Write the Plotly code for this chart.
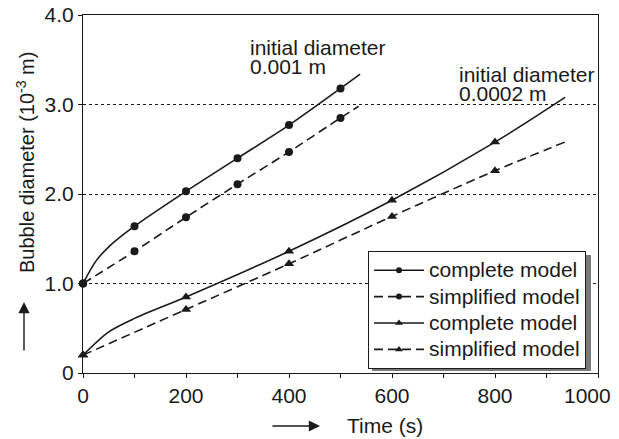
import plotly.graph_objects as go

# ---- data ----
# initial diameter 0.001 m, complete model
t_c1_line = [0, 25, 50, 100, 200, 300, 400, 500, 538]
d_c1_line = [1.0, 1.25, 1.41, 1.64, 2.03, 2.40, 2.77, 3.18, 3.34]
t_c1_mark = [0, 100, 200, 300, 400, 500]
d_c1_mark = [1.0, 1.64, 2.03, 2.40, 2.77, 3.18]

# initial diameter 0.001 m, simplified model
t_s1_line = [0, 100, 200, 300, 400, 500, 535]
d_s1_line = [1.0, 1.36, 1.74, 2.11, 2.47, 2.85, 2.98]
t_s1_mark = [0, 100, 200, 300, 400, 500]
d_s1_mark = [1.0, 1.36, 1.74, 2.11, 2.47, 2.85]

# initial diameter 0.0002 m, complete model
t_c2_line = [0, 50, 100, 200, 400, 600, 800, 936]
d_c2_line = [0.2, 0.46, 0.61, 0.85, 1.36, 1.93, 2.58, 3.08]
t_c2_mark = [0, 200, 400, 600, 800]
d_c2_mark = [0.2, 0.85, 1.36, 1.93, 2.58]

# initial diameter 0.0002 m, simplified model
t_s2_line = [0, 200, 400, 600, 800, 940]
d_s2_line = [0.2, 0.71, 1.22, 1.75, 2.26, 2.59]
t_s2_mark = [0, 200, 400, 600, 800]
d_s2_mark = [0.2, 0.71, 1.22, 1.75, 2.26]

legend_names = ["complete model", "simplified model", "complete model", "simplified model"]

x_tickvals = [0, 100, 200, 300, 400, 500, 600, 700, 800, 900, 1000]
x_ticktext = ["0", "", "200", "", "400", "", "600", "", "800", "", ""]
x_last_label = "1000"
y_tickvals = [0, 1, 2, 3, 4]
y_ticktext = ["0", "1.0", "2.0", "3.0", "4.0"]

INK = "#1a1a1a"
FONT = "Arial, Liberation Sans, sans-serif"
DASH = "9px,5px"
FS = 21

fig = go.Figure()

series = [
    (t_c1_line, d_c1_line, t_c1_mark, d_c1_mark, "solid", "circle", 8, legend_names[0]),
    (t_s1_line, d_s1_line, t_s1_mark, d_s1_mark, DASH, "circle", 8, legend_names[1]),
    (t_c2_line, d_c2_line, t_c2_mark, d_c2_mark, "solid", "triangle-up", 9, legend_names[2]),
    (t_s2_line, d_s2_line, t_s2_mark, d_s2_mark, DASH, "triangle-up", 9, legend_names[3]),
]

for i, (tl, dl, tm, dm, dash, sym, ms, name) in enumerate(series):
    fig.add_trace(go.Scatter(
        x=tl, y=dl, mode="lines", line=dict(color=INK, width=1.6, dash=dash, shape="spline", smoothing=0.8),
        showlegend=False, hoverinfo="skip"))
    fig.add_trace(go.Scatter(
        x=tm, y=dm, mode="markers", marker=dict(symbol=sym, size=ms, color=INK),
        showlegend=False, cliponaxis=False))
    fig.add_trace(go.Scatter(
        x=[None], y=[None], mode="lines+markers",
        name=f'<span style="font-size:{FS}px">{name}</span>',
        line=dict(color=INK, width=1.6, dash=dash),
        marker=dict(symbol=sym, size=ms - 2, color=INK)))

# legend shadow (drawn beneath the legend box)
fig.add_shape(type="rect", xref="paper", yref="paper",
              x0=(372 - 83) / 515, x1=(591 - 83) / 515,
              y0=(373 - 371) / 358, y1=(373 - 255) / 358,
              fillcolor="#7a7a7a", line=dict(width=0), layer="above")

annotations = [
    dict(x=320, y=3.64, text="initial diameter", xanchor="left", yanchor="middle"),
    dict(x=320, y=3.43, text="0.001 m", xanchor="left", yanchor="middle"),
    dict(x=726, y=3.33, text="initial diameter", xanchor="left", yanchor="middle"),
    dict(x=726, y=3.12, text="0.0002 m", xanchor="left", yanchor="middle"),
]
for a in annotations:
    fig.add_annotation(xref="x", yref="y", showarrow=False, font=dict(size=FS, color=INK, family=FONT), **a)

# last x tick label, nudged left as in the reference
fig.add_annotation(xref="paper", yref="paper", x=(587 - 83) / 515, y=(373 - 396) / 358,
                   text=x_last_label, showarrow=False, xanchor="center", yanchor="middle",
                   font=dict(size=FS, color=INK, family=FONT))

# axis titles and arrows
fig.add_annotation(xref="paper", yref="paper", x=(25 - 83) / 515, y=(373 - 163) / 358,
                   text="Bubble diameter (10<sup>-3</sup> m)", textangle=-90, showarrow=False,
                   xanchor="center", yanchor="middle", font=dict(size=20, color=INK, family=FONT))
fig.add_annotation(xref="paper", yref="paper", x=(24 - 83) / 515, y=(373 - 302) / 358,
                   text="", showarrow=True, ax=0, ay=50, arrowhead=2, arrowsize=1.6,
                   arrowwidth=1.4, arrowcolor=INK)
fig.add_annotation(xref="paper", yref="paper", x=(385 - 83) / 515, y=(373 - 425) / 358,
                   text="Time (s)", showarrow=False, xanchor="center", yanchor="middle",
                   font=dict(size=FS, color=INK, family=FONT))
fig.add_annotation(xref="paper", yref="paper", x=(320 - 83) / 515, y=(373 - 426) / 358,
                   text="", showarrow=True, ax=-49, ay=0, arrowhead=2, arrowsize=1.6,
                   arrowwidth=1.4, arrowcolor=INK)

fig.update_layout(
    width=619, height=439,
    margin=dict(l=83, r=21, t=15, b=66, autoexpand=False),
    paper_bgcolor="white", plot_bgcolor="white",
    font=dict(family=FONT, size=FS, color=INK),
    legend=dict(x=(368 - 83) / 515, y=(373 - 251) / 358, xanchor="left", yanchor="top",
                bgcolor="white", bordercolor=INK, borderwidth=1, itemwidth=50,
                font=dict(size=18, color=INK, family=FONT), tracegroupgap=0),
)
fig.update_xaxes(range=[0, 1000], tickvals=x_tickvals, ticktext=x_ticktext,
                 showline=True, mirror=True, linecolor=INK, linewidth=1,
                 ticks="outside", ticklen=4, tickcolor=INK, showgrid=False, zeroline=False)
fig.update_yaxes(range=[0, 4], tickvals=y_tickvals, ticktext=y_ticktext,
                 showline=True, mirror=True, linecolor=INK, linewidth=1,
                 ticks="outside", ticklen=4, tickcolor=INK,
                 showgrid=True, gridcolor=INK, gridwidth=1, griddash="dot", zeroline=False)

fig.write_html("out.html")
